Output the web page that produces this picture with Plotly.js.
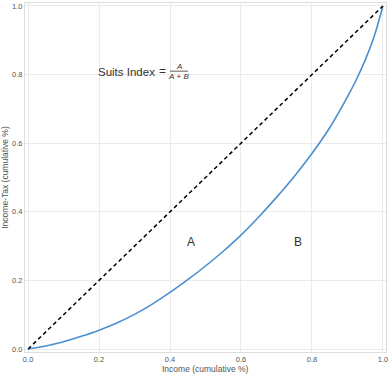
<!DOCTYPE html>
<html>
<head>
<meta charset="utf-8">
<script src="https://cdn.plot.ly/plotly-3.0.1.min.js"></script>
<style>html,body{margin:0;padding:0;background:#fff;}#chart{width:389px;height:375px;}</style>
</head>
<body>
<div id="chart"></div>
<script>
// Cumulative income share (x) and cumulative income-tax share (y)
const incomeCum = [0, 0.05, 0.1, 0.15, 0.2, 0.25, 0.3, 0.35, 0.4, 0.45, 0.5, 0.55, 0.6, 0.65, 0.7, 0.75, 0.8, 0.85, 0.9, 0.925, 0.95, 0.975, 1.0];
const taxCum    = [0, 0.009, 0.021, 0.037, 0.055, 0.076, 0.101, 0.131, 0.165, 0.202, 0.242, 0.285, 0.332, 0.385, 0.442, 0.503, 0.570, 0.645, 0.735, 0.785, 0.842, 0.910, 1.0];
const equalityX = [0, 1];
const equalityY = [0, 1];
const areaLabels = ["A", "B"];
const areaLabelX = [0.46, 0.76];
const areaLabelY = [0.313, 0.313];
const tickVals = [0, 0.2, 0.4, 0.6, 0.8, 1.0];
const tickText = ["0.0", "0.2", "0.4", "0.6", "0.8", "1.0"];

const font = "Liberation Sans, Arial, sans-serif";
const tickColor = "#555555";
const textColor = "#333333";

const traces = [
  {x: incomeCum, y: taxCum, mode: "lines", line: {color: "#4a8fd0", width: 1.6, shape: "spline", smoothing: 0.8}, hoverinfo: "skip"},
  {x: equalityX, y: equalityY, mode: "lines", line: {color: "#000000", width: 1.5, dash: "4px,3px"}, hoverinfo: "skip"}
];

const annotations = areaLabels.map((t, i) => ({
  x: areaLabelX[i], y: areaLabelY[i], xref: "x", yref: "y", text: t, showarrow: false,
  font: {family: font, size: 12, color: textColor}
}));
annotations.push(
  {x: 0.194, y: 0.809, xref: "x", yref: "y", xanchor: "left", text: "Suits Index", showarrow: false, borderpad: 0, font: {family: font, size: 11.5, color: textColor}},
  {x: 0.380, y: 0.811, xref: "x", yref: "y", xanchor: "center", text: "=", showarrow: false, borderpad: 0, font: {family: font, size: 12, color: textColor}},
  {x: 0.425, y: 0.824, xref: "x", yref: "y", xanchor: "center", text: "<i>A</i>", showarrow: false, borderpad: 0, font: {family: font, size: 8, color: textColor}},
  {x: 0.425, y: 0.794, xref: "x", yref: "y", xanchor: "center", text: "<i>A</i> + <i>B</i>", showarrow: false, borderpad: 0, font: {family: font, size: 8, color: textColor}},
  {x: 0.5, y: 0, xref: "paper", yref: "paper", yshift: -22.5, xanchor: "center", yanchor: "bottom", text: "Income (cumulative %)", showarrow: false, borderpad: 0, font: {family: font, size: 8.5, color: tickColor}}
);

const axisCommon = {
  range: [-0.0087, 1.0087], tickvals: tickVals, ticktext: tickText,
  showgrid: true, gridcolor: "#ebebeb", gridwidth: 1, zeroline: false,
  showline: true, linecolor: "#dddddd", linewidth: 1, mirror: true, ticks: "",
  ticklabeloverflow: "allow",
  tickfont: {family: font, size: 7.5, color: tickColor}, fixedrange: true
};

const layout = {
  width: 389, height: 375,
  margin: {l: 25, r: 3, t: 3, b: 23},
  paper_bgcolor: "#ffffff", plot_bgcolor: "#ffffff",
  showlegend: false,
  xaxis: Object.assign({}, axisCommon),
  yaxis: Object.assign({}, axisCommon, {title: {text: "Income-Tax (cumulative %)", standoff: 3, font: {family: font, size: 8.5, color: tickColor}}}),
  annotations: annotations,
  shapes: [
    {type: "line", xref: "x", yref: "y", x0: 0.400, x1: 0.451, y0: 0.810, y1: 0.810, line: {color: textColor, width: 0.8}}
  ]
};

Plotly.newPlot("chart", traces, layout, {displayModeBar: false, staticPlot: true});
</script>
</body>
</html>
